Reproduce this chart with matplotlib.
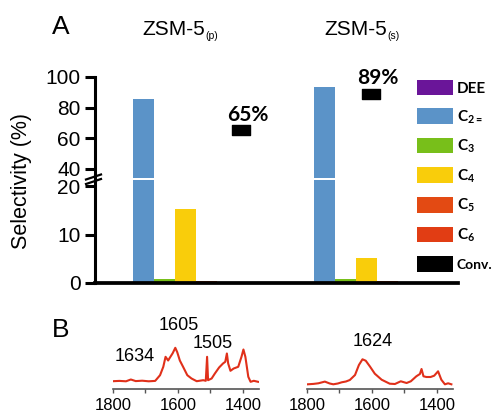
import matplotlib
matplotlib.use("Agg")
import matplotlib.pyplot as plt
import numpy as np
from matplotlib.path import Path
from matplotlib.patches import Patch
from matplotlib.lines import Line2D

# ---------------- data ----------------
catalysts = ["ZSM-5", "ZSM-5"]
cat_subs = ["(p)", "(s)"]
products = ["DEE", "C$_{2=}$", "C$_3$", "C$_4$", "C$_5$", "C$_6$"]
legend_labels = ["DEE", r"$\mathbf{C_{2=}}$", r"$\mathbf{C_3}$", r"$\mathbf{C_4}$",
                 r"$\mathbf{C_5}$", r"$\mathbf{C_6}$", "Conv."]
dee = [0.3, 0.1]
c2e = [85.5, 93.2]
c3 = [0.8, 0.8]
c4 = [15.2, 5.2]
c5 = [0.4, 0.4]
c6 = [0.1, 0.1]
conversion = [65, 89]
conv_labels = ["65%", "89%"]
yticks_low = [0, 10, 20]
yticks_high = [40, 60, 80, 100]

# IR spectra (arbitrary units)
wn_p = [1800, 1780, 1760, 1745, 1730, 1710, 1690, 1670, 1655, 1645, 1638, 1630, 1625,
        1616, 1608, 1602, 1594, 1584, 1571, 1558, 1542, 1522, 1514, 1510, 1507, 1496,
        1486, 1473, 1461, 1454, 1449, 1445, 1438, 1428, 1414, 1404, 1398, 1392, 1383,
        1376, 1366, 1353]
ab_p = [7.3, 7.6, 7.2, 9.0, 7.4, 7.8, 7.2, 7.6, 13.3, 21.7, 31.7, 28.0, 30.7,
        35.3, 40.7, 36.3, 28.0, 21.7, 13.3, 10.0, 7.3, 8.3, 7.7, 31.7, 8.3, 10.0,
        15.0, 21.0, 25.0, 26.7, 35.0, 25.0, 17.7, 20.0, 21.7, 31.7, 39.0, 31.7, 11.7,
        6.7, 7.7, 6.7]
wn_s = [1798, 1780, 1765, 1745, 1730, 1719, 1705, 1693, 1680, 1668, 1652, 1640, 1629,
        1619, 1606, 1591, 1570, 1545, 1529, 1511, 1493, 1480, 1463, 1452, 1447, 1441,
        1432, 1419, 1408, 1396, 1386, 1375, 1365, 1355]
ab_s = [4.2, 4.6, 5.2, 6.9, 5.0, 4.2, 5.0, 6.2, 7.0, 8.5, 13.5, 23.5, 29.2,
        27.8, 22.0, 14.8, 8.8, 4.8, 4.5, 7.2, 5.5, 7.2, 12.2, 14.5, 19.5, 12.2,
        11.5, 11.5, 12.8, 17.2, 8.8, 4.2, 5.2, 4.2]
peak_labels_p = ["1634", "1605", "1505"]
peak_labels_s = ["1624"]

colors = ["#6a1599", "#5b93c8", "#78bf1a", "#f9cd0b", "#e34a13", "#e13d14"]

# ---------------- layout ----------------
W, H = 494, 412
def fx(px): return px / W
def fy(py): return 1 - py / H

plt.rcParams["font.family"] = ["Liberation Sans", "DejaVu Sans"]
plt.rcParams["mathtext.fontset"] = "custom"
plt.rcParams["mathtext.rm"] = "Lato:bold"
plt.rcParams["mathtext.bf"] = "Lato:bold"
plt.rcParams["mathtext.it"] = "Lato:bold"

fig = plt.figure(figsize=(W / 100, H / 100), dpi=100)

axL = fig.add_axes([fx(95), fy(283), fx(458) - fx(95), (283 - 179.5) / H])
axU = fig.add_axes([fx(95), fy(177.5), fx(458) - fx(95), (177.5 - 77) / H])

bw = 1.0
xmax = 363 / 21
group_start = [1.29, 9.93]
conv_x = [6.95, 13.14]
series = [dee, c2e, c3, c4, c5, c6]

for ax in (axL, axU):
    for i, vals in enumerate(series):
        xs = [group_start[g] + i * bw for g in range(len(vals))]
        ax.bar(xs, vals, width=bw, color=colors[i], edgecolor="none", zorder=2)
    ax.set_xlim(0, xmax)
    ax.spines["top"].set_visible(False)
    ax.spines["right"].set_visible(False)
    ax.spines["left"].set_linewidth(2.2)
    ax.tick_params(axis="y", direction="out", length=7, width=2.2, labelsize=15, pad=3.5)
    ax.set_xticks([])

axL.set_ylim(0, 21.4)
axL.set_yticks(yticks_low)
axL.spines["bottom"].set_linewidth(2.7)
axL.spines["bottom"].set_zorder(5)
axU.set_ylim(34.2, 100)
axU.set_yticks(yticks_high)
axU.spines["bottom"].set_visible(False)
axU.patch.set_alpha(0)
axL.patch.set_alpha(0)

# conversion markers
rect = Path([(-1, -0.6), (1, -0.6), (1, 0.6), (-1, 0.6), (-1, -0.6)],
            [Path.MOVETO, Path.LINETO, Path.LINETO, Path.LINETO, Path.CLOSEPOLY])
axU.plot(conv_x, conversion, linestyle="none", marker=rect, markersize=12.5,
         color="black", zorder=4)
for x, v, lab in zip(conv_x, conversion, conv_labels):
    axU.annotate(lab, (x, v), xytext=(5, 7), textcoords="offset points",
                 ha="center", va="baseline", fontsize=15, fontweight="bold",
                 family="Lato")

# axis break marks
for dy in (0, 4.5):
    fig.add_artist(Line2D([fx(86), fx(101)], [fy(179.5 + dy), fy(174.5 + dy)],
                          color="black", lw=1.6))

fig.text(fx(22), fy(181), "Selectivity (%)", rotation=90, ha="center", va="center",
         fontsize=15.5)
fig.text(fx(61), fy(27.5), "A", ha="center", va="center", fontsize=19)

# catalyst titles
for xr, name, sub in zip([205, 387], catalysts, cat_subs):
    fig.text(fx(xr), fy(35), name, ha="right", va="baseline", fontsize=15)
    fig.text(fx(xr), fy(39), sub, ha="left", va="baseline", fontsize=7.5)

# legend
handles = [Patch(facecolor=c, edgecolor="none") for c in colors] + \
          [Patch(facecolor="black", edgecolor="none")]
fs = 11
fs_px = fs * 100 / 72
leg = fig.legend(handles, legend_labels, loc="upper left",
                 bbox_to_anchor=(fx(417), fy(80)), frameon=False, borderpad=0,
                 borderaxespad=0, handlelength=36 / fs_px, handleheight=18 / fs_px,
                 labelspacing=0.8, handletextpad=3.5 / fs_px,
                 prop={"family": "Lato", "weight": "bold", "size": fs})
leg.get_texts()[-1].set_fontsize(10)

# ---------------- panel B ----------------
axB1 = fig.add_axes([fx(113), fy(388.5), 146 / W, 48 / H])
axB2 = fig.add_axes([fx(307), fy(388.5), 146 / W, 48 / H])
red = "#e0301a"
axB1.plot(wn_p, ab_p, color=red, lw=1.5)
axB2.plot(wn_s, ab_s, color=red, lw=1.5)
for ax in (axB1, axB2):
    ax.set_xlim(1800, 1350)
    ax.set_ylim(0, 48)
    for s in ("top", "right", "left"):
        ax.spines[s].set_visible(False)
    ax.spines["bottom"].set_color("#555555")
    ax.spines["bottom"].set_linewidth(1.2)
    ax.set_yticks([])
    ax.set_xticks([1800, 1600, 1400])
    ax.set_xticks([1700, 1500], minor=True)
    ax.tick_params(axis="x", which="both", direction="out", length=3, width=1,
                   color="#555555", labelsize=12, pad=4)
    ax.patch.set_alpha(0)

axB1.text(1732, 32, peak_labels_p[0], ha="center", va="center", fontsize=13, clip_on=False)
axB1.text(1597, 63, peak_labels_p[1], ha="center", va="center", fontsize=13, clip_on=False)
axB1.text(1492, 44.5, peak_labels_p[2], ha="center", va="center", fontsize=13, clip_on=False)
axB2.text(1597, 47, peak_labels_s[0], ha="center", va="center", fontsize=13, clip_on=False)
fig.text(fx(61), fy(330), "B", ha="center", va="center", fontsize=19)

fig.savefig("out.png", dpi=100)
